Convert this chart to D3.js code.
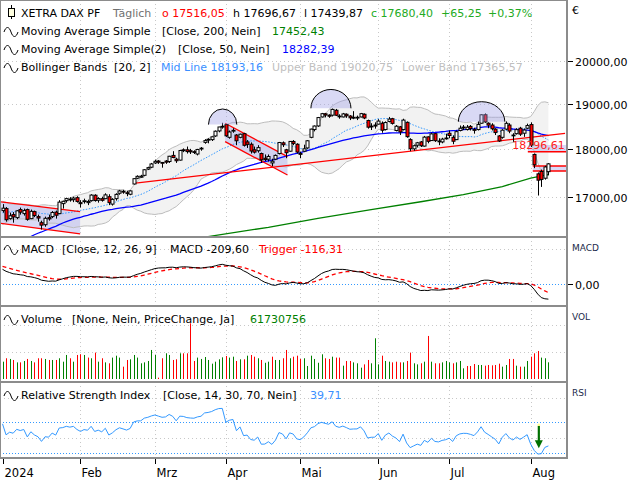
<!DOCTYPE html>
<html><head><meta charset="utf-8">
<script src="https://cdn.jsdelivr.net/npm/d3@7"></script>
<style>body{margin:0;background:#fff}svg{display:block}text{font-family:"DejaVu Sans",sans-serif}</style>
</head><body><svg id="c" width="640" height="480"></svg>
<script>
// ---------- DATA ----------
const histClose=[15247,15085,15100,15070,15230,15128,15423,15460,15425,15187,15237,15251,15095,15045,14798,14800,14880,14892,14731,14688,14716,14810,
14923,15143,15189,15136,15153,15229,15353,15234,15345,15615,15748,15786,15919,15901,15900,15958,15994,16029,15966,15992,16166,16215,
16397,16405,16533,16656,16629,16759,16794,16792,16766,16553,16751,16650,16744,16733,16687,16706,16742,16702,16752];
const openP=[16720,16760,16560,16640,16580,16740,16660,16740,16560,16700,16600,16480,16440,16580,16600,16690,16660,16860,16920,16950,16940,16980,
16880,16900,16880,16920,17030,16930,16960,16960,17000,16850,16960,17070,17110,17080,17050,17260,17380,17400,17440,17570,17610,
17700,17740,17710,17740,17730,17860,17780,17760,17980,17980,17960,17940,17890,18000,18140,18190,18200,18280,18390,18480,
18530,18250,18400,18300,18250,18330,18150,18100,17980,17960,17900,17800,17780,17700,17780,17900,18130,17980,17950,18160,18100,
17900,17950,18020,18250,18420,18500,18700,18770,18740,18740,18850,18720,18700,18760,18720,18680,18680,18700,18760,18620,18480,18520,
18540,18560,18420,18600,18660,18400,18480,18420,18580,18200,18000,18080,18150,18060,18260,18180,18330,18170,18150,18220,
18340,18250,18200,18400,18460,18420,18490,18420,18420,18560,18750,18560,18520,18430,18280,18250,18430,18520,18300,18330,18450,18340,18450,
18530,17880,17470,17520,17380,17516.05];
const highP=[16850,16790,16680,16690,16730,16780,16760,16760,16740,16720,16640,16520,16600,16640,16710,16720,16930,16920,16980,16990,17000,17010,
16930,16960,16940,17050,17050,16990,17000,17070,17050,16970,17070,17140,17140,17120,17130,17380,17440,17450,17570,17620,17700,
17770,17760,17720,17760,17850,17950,17810,17980,18010,18050,18000,17970,18000,18040,18210,18230,18270,18400,18480,18570,
18540,18400,18450,18320,18330,18350,18190,18140,18050,18080,17920,17880,17880,17790,17880,18150,18160,18000,18170,18190,18120,
17940,18090,18190,18440,18510,18700,18790,18790,18760,18890,18880,18760,18790,18780,18740,18830,18730,18790,18780,18640,18560,18580,
18650,18600,18600,18700,18680,18520,18500,18660,18600,18230,18090,18150,18170,18280,18270,18350,18340,18230,18240,18330,
18400,18290,18400,18510,18520,18520,18520,18460,18600,18760,18780,18580,18560,18450,18300,18430,18600,18560,18340,18450,18480,18440,18550,
18580,17900,17500,17560,17640,17696.67];
const lowP=[16680,16500,16540,16480,16550,16640,16620,16520,16550,16590,16500,16345,16400,16520,16570,16560,16650,16760,16880,16900,16890,16880,
16780,16860,16830,16900,16900,16880,16900,16950,16830,16820,16920,17040,17060,17010,17030,17250,17360,17390,17420,17550,17590,
17680,17680,17600,17680,17700,17800,17700,17750,17930,17900,17890,17890,17860,17960,18110,18120,18170,18260,18360,18440,
18260,18220,18350,18080,18230,18050,18020,17900,17900,17920,17700,17740,17730,17630,17760,17880,18040,17800,17940,18080,17900,
17800,17930,18000,18230,18380,18480,18690,18690,18680,18710,18720,18660,18690,18680,18630,18650,18630,18690,18650,18440,18410,18440,
18530,18350,18400,18580,18530,18380,18300,18400,18240,17950,17960,18030,18040,18050,18120,18170,18150,18080,18120,18200,
18230,18100,18190,18380,18410,18400,18400,18330,18400,18550,18570,18450,18400,18300,18150,18220,18410,18340,18150,18310,18280,18260,18430,
18040,17590,17024,17200,17350,17439.87];
const closeP=[16769,16538,16617,16594,16716,16689,16721,16547,16705,16622,16572,16432,16567,16555,16683,16628,16890,16907,16961,16942,16972,16904,
16859,16918,16904,17033,16922,16963,16927,17037,16880,16946,17047,17117,17093,17068,17118,17370,17419,17423,17556,17601,17678,
17735,17716,17698,17716,17842,17815,17746,17965,17961,17942,17936,17933,17987,18015,18179,18206,18261,18384,18477,18492,
18283,18367,18403,18175,18318,18077,18097,17954,17930,18027,17766,17770,17837,17737,17860,18137,18089,17917,18161,18118,17932,
17896,18001,18175,18430,18498,18686,18773,18742,18716,18869,18738,18704,18768,18726,18680,18691,18693,18774,18677,18473,18496,18498,
18608,18405,18575,18652,18557,18494,18369,18630,18265,18002,18068,18131,18067,18254,18163,18325,18177,18155,18211,18235,
18290,18165,18374,18450,18475,18472,18444,18407,18534,18748,18590,18518,18437,18354,18171,18407,18558,18387,18299,18418,18320,18410,18508,
18083,17661,17339,17354,17615,17680.40];
// volume in millions
const volumeM=[64.0,76.6,74.1,70.3,61.5,61.5,66.6,74.1,66.6,61.5,76.6,76.6,74.1,70.3,70.3,70.3,76.6,64.0,88.8,76.6,64.0,88.8,
91.3,88.8,79.1,76.6,97.5,64.0,76.6,61.5,58.0,79.1,86.2,79.1,45.6,70.3,72.8,88.8,79.1,58.0,61.5,66.6,107.3,
88.8,4.9,76.6,95.0,88.8,70.3,72.8,95.0,95.0,95.0,205.9,66.6,79.1,74.1,81.3,70.3,56.7,64.0,72.8,80.1,
85.0,79.1,82.5,66.6,72.8,72.8,86.2,88.8,82.5,76.6,70.3,60.0,64.0,82.5,70.3,70.3,76.6,107.3,76.6,82.5,86.2,
74.1,76.6,48.1,86.2,74.1,60.0,91.3,76.6,74.1,82.5,79.1,79.1,49.3,66.6,66.6,61.5,58.0,41.9,54.1,70.3,58.0,150.5,
54.1,86.2,66.6,64.0,61.5,64.0,61.5,61.5,66.6,97.5,58.0,54.1,58.0,64.0,159.1,64.0,58.0,58.0,61.5,66.6,
61.5,58.0,61.5,66.6,39.4,48.1,48.1,55.4,51.8,51.8,49.3,51.8,50.5,51.8,56.7,45.6,51.8,74.1,74.1,49.3,45.6,45.6,66.6,
82.5,95.0,103.6,79.1,76.6,61.73];
const monthLabels=["2024","Feb","Mrz","Apr","Mai","Jun","Jul","Aug"];
const monthStart=[0,22,43,63,84,106,126,149];
const priceTicks=[17000,18000,19000,20000];
// SMA200 (index, value)
const sma200Idx=[45,58,75,89,104,118,130,141,149,154];
const sma200Val=[16050,16209,16390,16567,16740,16898,17040,17206,17383,17452.43];
// drawn objects
const channels=[{i0:-0.8,i1:21.9,up0:16899,up1:16698,lo0:16469,lo1:16260},{i0:62.8,i1:80.4,up0:18559,up1:17833,lo0:18155,lo1:17447}];
const trendLines=[{i0:36.9,i1:158.7,p0:17275,p1:18338}];
const arcs=[{iL:58.1,iR:66.1,base:18530,top:18879},{iL:87.0,iR:98.3,base:18894,top:19324},{iL:128.6,iR:141.7,base:18594,top:19044}];
const levelBands=[{i0:148.2,p0:17940,p1:18084},{i0:149.6,p0:17531,p1:17636}];
const levelLines=[{i0:148.2,p:17940},{i0:149.6,p:17636},{i0:149.6,p:17531}];
const levelLabel={i:143.8,p:17990,text:"18296,61"};
const rsiArrow={i:151.3,top:64.6,bottom:36.5};

// ---------- INDICATORS ----------
const N=closeP.length, H0=histClose.length, allC=histClose.concat(closeP);
const bbMid=[],bbUp=[],bbLo=[],sma50=[];
for(let i=0;i<N;i++){const j=i+H0;let s=0;for(let k=j-19;k<=j;k++)s+=allC[k];const m=s/20;let v=0;for(let k=j-19;k<=j;k++)v+=(allC[k]-m)**2;const sd=Math.sqrt(v/20);
bbMid.push(m);bbUp.push(m+2*sd);bbLo.push(m-2*sd);let s5=0;for(let k=j-49;k<=j;k++)s5+=allC[k];sma50.push(s5/50);}
function ema(a,n){const al=2/(n+1),o=[a[0]];for(let k=1;k<a.length;k++)o.push(al*a[k]+(1-al)*o[k-1]);return o;}
const e12=ema(allC,12),e26=ema(allC,26),macdAll=allC.map((_,k)=>e12[k]-e26[k]),sigAll=ema(macdAll,9);
const macd=macdAll.slice(H0),sig=sigAll.slice(H0);
let ag=0,al=0;const rsiAll=[];
for(let k=1;k<allC.length;k++){const d=allC[k]-allC[k-1],g=Math.max(d,0),l=Math.max(-d,0);
 if(k<=14){ag+=g/14;al+=l/14;}else{ag=(ag*13+g)/14;al=(al*13+l)/14;}rsiAll[k]=k>=14?100-100/(1+ag/al):null;}
const rsi=rsiAll.slice(H0);

// ---------- DRAW ----------
const svg=d3.select("#c");
const x=d3.scaleLinear().domain([0,154]).range([2.5,548.4]);
const yP=d3.scaleLog().domain([17000,20000]).range([196.7,60.7]);
const yM=d3.scaleLinear().domain([-209.6,0]).range([299,284.3]);
const yV=d3.scaleLinear().domain([0,61.73]).range([379,362.3]);
const yR=d3.scaleLinear().domain([30,70]).range([453.3,421.7]);
const panels=[{t:0,b:237},{t:237,b:306},{t:306,b:382},{t:382,b:458}];
const R=567;
const defs=svg.append("defs");
panels.forEach((p,k)=>defs.append("clipPath").attr("id","cl"+k).append("rect").attr("x",1).attr("y",p.t+1).attr("width",R-2).attr("height",p.b-p.t-2));
const G=panels.map((p,k)=>svg.append("g").attr("clip-path",`url(#cl${k})`));
const grid="#c8c8c8";
panels.forEach((p,k)=>{G[k].selectAll(null).data(monthStart.slice(1)).enter().append("line")
 .attr("x1",d=>Math.round(x(d))+0.5).attr("x2",d=>Math.round(x(d))+0.5).attr("y1",p.t).attr("y2",p.b)
 .attr("stroke",grid).attr("stroke-dasharray","1,3");});
G[0].selectAll(null).data(priceTicks).enter().append("line").attr("x1",0).attr("x2",R)
 .attr("y1",d=>Math.round(yP(d))+0.5).attr("y2",d=>Math.round(yP(d))+0.5).attr("stroke",grid).attr("stroke-dasharray","1,3");
const idx=d3.range(N);
G[0].append("path").attr("d",d3.area().x(i=>x(i)).y0(i=>yP(bbLo[i])).y1(i=>yP(bbUp[i]))(idx)).attr("fill","#f2f2f2");
channels.forEach(c=>{
 const pts=[[x(c.i0),yP(c.up0)],[x(c.i1),yP(c.up1)],[x(c.i1),yP(c.lo1)],[x(c.i0),yP(c.lo0)]];
 G[0].append("path").attr("d","M"+pts.join("L")+"Z").attr("fill","rgba(170,170,235,0.45)");
});
levelBands.forEach(b=>G[0].append("rect").attr("x",x(b.i0)).attr("width",R-x(b.i0)).attr("y",yP(b.p1)).attr("height",yP(b.p0)-yP(b.p1)).attr("fill","rgba(170,170,235,0.45)"));
["up","lo"].forEach(k=>{G[0].append("path").attr("d",d3.line().x(i=>x(i)).y(i=>yP(k=="up"?bbUp[i]:bbLo[i]))(idx)).attr("fill","none").attr("stroke","#bdbdbd");});
G[0].append("path").attr("d",d3.line().x(i=>x(i)).y(i=>yP(bbMid[i]))(idx)).attr("fill","none").attr("stroke","#3399ff").attr("stroke-dasharray","1.5,1.5");
G[0].append("path").attr("d",d3.line().x((d,k)=>x(d)).y((d,k)=>yP(sma200Val[k]))(sma200Idx)).attr("fill","none").attr("stroke","#008000").attr("stroke-width",1.3);
G[0].append("path").attr("d",d3.line().x(i=>x(i)).y(i=>yP(sma50[i]))(idx)).attr("fill","none").attr("stroke","#0000ff").attr("stroke-width",1.3);
channels.forEach(c=>{[[c.up0,c.up1],[c.lo0,c.lo1]].forEach(p=>G[0].append("line").attr("x1",x(c.i0)).attr("x2",x(c.i1)).attr("y1",yP(p[0])).attr("y2",yP(p[1])).attr("stroke","#ff0000").attr("stroke-width",1.3));});
trendLines.forEach(t=>G[0].append("line").attr("x1",x(t.i0)).attr("x2",x(t.i1)).attr("y1",yP(t.p0)).attr("y2",yP(t.p1)).attr("stroke","#ff0000").attr("stroke-width",1.3));
levelLines.forEach(l=>G[0].append("line").attr("x1",x(l.i0)).attr("x2",R).attr("y1",yP(l.p)).attr("y2",yP(l.p)).attr("stroke","#ff0000").attr("stroke-width",1.5));
const cg=G[0].append("g");
idx.forEach(i=>{const cx=Math.round(x(i))+0.5,o=openP[i],c=closeP[i],up=c>=o;
 cg.append("line").attr("x1",cx).attr("x2",cx).attr("y1",yP(highP[i])).attr("y2",yP(lowP[i])).attr("stroke","#000");
 const yt=yP(Math.max(o,c)),yb=yP(Math.min(o,c));
 cg.append("rect").attr("x",cx-1.5).attr("width",3).attr("y",yt).attr("height",Math.max(yb-yt,0.8))
  .attr("fill",up?"#fff":"#ff0000").attr("stroke","#000").attr("stroke-width",1);});
arcs.forEach(a=>{const xl=x(a.iL),xr=x(a.iR),yb=yP(a.base),rx=(xr-xl)/2,ry=yb-yP(a.top);
 G[0].append("path").attr("d",`M${xl},${yb}A${rx},${ry} 0 0 1 ${xr},${yb}Z`).attr("fill","rgba(160,160,230,0.4)");
 G[0].append("path").attr("d",`M${xl},${yb}A${rx},${ry} 0 0 1 ${xr},${yb}`).attr("fill","none").attr("stroke","#000");});
G[0].append("text").attr("x",x(levelLabel.i)).attr("y",yP(levelLabel.p)).attr("fill","#ff2020").attr("font-size",11).text(levelLabel.text);

G[1].append("line").attr("x1",0).attr("x2",R).attr("y1",Math.round(yM(0))+0.5).attr("y2",Math.round(yM(0))+0.5).attr("stroke","#3399ff").attr("stroke-dasharray","1,2");
G[1].append("line").attr("x1",0).attr("x2",R).attr("y1",Math.round(yM(500))+0.5).attr("y2",Math.round(yM(500))+0.5).attr("stroke",grid).attr("stroke-dasharray","1,3");
G[1].append("path").attr("d",d3.line().x(i=>x(i)).y(i=>yM(sig[i]))(idx)).attr("fill","none").attr("stroke","#ff0000").attr("stroke-width",1.3).attr("stroke-dasharray","4,3");
G[1].append("path").attr("d",d3.line().x(i=>x(i)).y(i=>yM(macd[i]))(idx)).attr("fill","none").attr("stroke","#000").attr("stroke-width",1);

[100,200].forEach(v=>G[2].append("line").attr("x1",0).attr("x2",R).attr("y1",Math.round(yV(v))+0.5).attr("y2",Math.round(yV(v))+0.5).attr("stroke",grid).attr("stroke-dasharray","1,3"));
idx.forEach(i=>{const prev=i?closeP[i-1]:histClose[H0-1];const cx=Math.round(x(i))+0.5;
 G[2].append("line").attr("x1",cx).attr("x2",cx).attr("y1",yV(0)).attr("y2",yV(volumeM[i])).attr("stroke",closeP[i]>=prev?"#008000":"#ff0000");});

[50,100].forEach(v=>G[3].append("line").attr("x1",0).attr("x2",R).attr("y1",Math.round(yR(v))+0.5).attr("y2",Math.round(yR(v))+0.5).attr("stroke",grid).attr("stroke-dasharray","1,3"));
[30,70].forEach(v=>G[3].append("line").attr("x1",0).attr("x2",R).attr("y1",Math.round(yR(v))+0.5).attr("y2",Math.round(yR(v))+0.5).attr("stroke","#3399ff").attr("stroke-dasharray","1,2"));
G[3].append("path").attr("d",d3.line().x(i=>x(i)).y(i=>yR(rsi[i]))(idx)).attr("fill","none").attr("stroke","#3399ff").attr("stroke-width",1);
{const ax=x(rsiArrow.i),y0=yR(rsiArrow.top),y1=yR(rsiArrow.bottom);
 G[3].append("circle").attr("cx",ax).attr("cy",y0-1).attr("r",1.5).attr("fill","#ffff99");
 G[3].append("line").attr("x1",ax).attr("x2",ax).attr("y1",y0).attr("y2",y1-6).attr("stroke","#007000").attr("stroke-width",2.2);
 G[3].append("path").attr("d",`M${ax-4},${y1-8}L${ax+4},${y1-8}L${ax},${y1}Z`).attr("fill","#007000");}

panels.forEach(p=>svg.append("rect").attr("x",0).attr("y",p.t).attr("width",R).attr("height",p.b-p.t).attr("fill","none").attr("stroke","#8c8c8c").attr("stroke-width",2));

const ax=svg.append("g").attr("font-size",11);
priceTicks.forEach(t=>{const yy=Math.round(yP(t))+0.5;ax.append("line").attr("x1",568).attr("x2",573).attr("y1",yy).attr("y2",yy).attr("stroke","#000");
 ax.append("text").attr("x",575).attr("y",yy+4).text(d3.format(".2f")(t).replace(".",","));});
ax.append("text").attr("x",572).attr("y",14).text("€");
{const yy=Math.round(yM(0))+0.5;ax.append("line").attr("x1",568).attr("x2",573).attr("y1",yy).attr("y2",yy).attr("stroke","#000");ax.append("text").attr("x",575).attr("y",yy+4).text("0,00");}
[["MACD",251],["VOL",320],["RSI",396]].forEach(d=>svg.append("text").attr("x",572).attr("y",d[1]).attr("font-size",9).attr("fill","#1a2a4a").text(d[0]));
monthStart.forEach((m,k)=>{const xx=Math.round(x(m))+0.5;svg.append("line").attr("x1",xx).attr("x2",xx).attr("y1",459).attr("y2",464).attr("stroke","#000");
 svg.append("text").attr("x",xx+1).attr("y",477).attr("font-size",11.5).text(monthLabels[k]);});

function wave(y){svg.append("path").attr("d",`M4,${y+1}c2,-6 5,-6 7,0s5,6 7,0`).attr("fill","none").attr("stroke","#000");}
function seg(xx,y,t,col){svg.append("text").attr("x",xx).attr("y",y).attr("font-size",11).attr("fill",col||"#000").text(t);}
svg.append("line").attr("x1",11.5).attr("x2",11.5).attr("y1",5).attr("y2",19).attr("stroke","#000");
svg.append("rect").attr("x",8.5).attr("y",8.5).attr("width",6).attr("height",8).attr("fill","#ffffe0").attr("stroke","#000");
const fmt=v=>d3.format(".2f")(v).replace(".",",");
seg(21,17,"XETRA DAX PF");seg(113,17,"Täglich","#707070");seg(162,17,"o "+fmt(openP[N-1]),"#ff0000");
seg(233,17,"h "+fmt(highP[N-1]));seg(304,17,"l "+fmt(lowP[N-1]));seg(371,17,"c "+fmt(closeP[N-1]),"#22aa22");
seg(441,17,"+65,25","#22aa22");seg(488,17,"+0,37%","#22aa22");
wave(31);seg(21,35,"Moving Average Simple");seg(162,35,"[Close, 200, Nein]");seg(272,35,"17452,43","#008000");
wave(49);seg(21,53,"Moving Average Simple(2)");seg(178,53,"[Close, 50, Nein]");seg(282,53,"18282,39","#0000ff");
wave(67);seg(21,71,"Bollinger Bands");seg(114,71,"[20, 2]");seg(161,71,"Mid Line 18193,16","#3a8fff");
seg(272,71,"Upper Band 19020,75","#c0c0c0");seg(402,71,"Lower Band 17365,57","#c0c0c0");
wave(249);seg(21,253,"MACD");seg(62,253,"[Close, 12, 26, 9]");seg(170,253,"MACD -209,60");seg(259,253,"Trigger -116,31","#ff0000");
wave(319);seg(21,323,"Volume");seg(72,323,"[None, Nein, PriceChange, Ja]");seg(250,323,"61730756","#008000");
wave(395);seg(21,399,"Relative Strength Index");seg(163,399,"[Close, 14, 30, 70, Nein]");seg(310,399,"39,71","#3a8fff");
</script></body></html>
